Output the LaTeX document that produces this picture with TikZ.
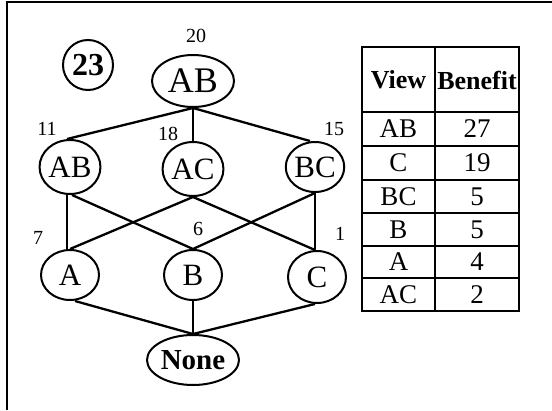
\documentclass[tikz,border=0pt]{standalone}
\usepackage{fontspec}
\setmainfont{Liberation Serif}
\usetikzlibrary{shapes.geometric}
\begin{document}
\begin{tikzpicture}[x=1pt,y=-1pt,
  lat/.style={ellipse,draw,line width=2pt,inner sep=0pt},
  big/.style={font=\fontsize{36}{38}\selectfont},
  mid/.style={font=\fontsize{31}{33}\selectfont},
  cnt/.style={font=\fontsize{20}{22}\selectfont,inner sep=0pt},
  edge/.style={line width=2.3pt},
  cell/.style={font=\fontsize{27}{29}\selectfont,inner sep=0pt},
  head/.style={font=\bfseries\fontsize{26}{28}\selectfont,inner sep=0pt},
  grid/.style={line width=2.3pt}]
\useasboundingbox (0,0) rectangle (552,410);
% frame
\draw[line width=2.3pt] (7,410) -- (7,2) -- (552,2);

% step counter
\node[circle,draw,line width=2pt,minimum size=50pt,inner sep=0pt,
      font=\bfseries\fontsize{32}{34}\selectfont] (step) at (88,65) {23};

% lattice of views
\node[lat,big,minimum width=82pt,minimum height=52pt] (top) at (193,81) {AB};
\node[lat,mid,minimum width=58pt,minimum height=54pt] (ab) at (70,167) {AB};
\node[lat,mid,minimum width=56pt,minimum height=54pt] (ac) at (193,169) {AC};
\node[lat,mid,minimum width=58pt,minimum height=50pt] (bc) at (315,167) {BC};
\node[lat,mid,minimum width=58pt,minimum height=50pt] (a) at (70,275) {A};
\node[lat,mid,minimum width=58pt,minimum height=50pt] (b) at (193,275) {B};
\node[lat,mid,minimum width=58pt,minimum height=52pt] (c) at (317,277) {C};
\node[lat,font=\bfseries\fontsize{29}{31}\selectfont,minimum width=92pt,minimum height=50pt] (none) at (193,360) {None};

% view sizes
\node[cnt] (n20) at (196,36) {20};
\node[cnt] (n11) at (47,129) {11};
\node[cnt] (n18) at (168,134) {18};
\node[cnt] (n15) at (334,129) {15};
\node[cnt] (n7) at (38,238) {7};
\node[cnt] (n6) at (198,229) {6};
\node[cnt] (n1) at (340,234) {1};

% lattice edges
\draw[edge] (top.south) -- ([xshift=-3pt]ab.north);
\draw[edge] (top.south) -- (ac.north);
\draw[edge] (top.south) -- ([xshift=-5pt]bc.north);
\draw[edge] ([xshift=-3pt]ab.south) -- ([xshift=-3pt]a.north);
\draw[edge] ([xshift=2pt]ab.south) -- (b.north);
\draw[edge] (ac.south) -- (a.north);
\draw[edge] (ac.south) -- ([xshift=-2pt]c.north);
\draw[edge] (bc.south) -- (b.north);
\draw[edge] (bc.south) -- ([xshift=-2pt]c.north);
\draw[edge] ([xshift=5pt]a.south) -- (none.north);
\draw[edge] (b.south) -- (none.north);
\draw[edge] ([xshift=-2pt]c.south) -- (none.north);

% benefit table
\draw[grid] (362,47) rectangle (519,311);
\draw[grid] (435,47) -- (435,311);
\foreach \yy in {112,146,180,213,246,278}
  \draw[grid] (362,\yy) -- (519,\yy);
\node[head] (hv) at (398.5,80) {View};
\node[head] (hb) at (477,80) {Benefit};
\node[cell] (v1) at (398.5,129) {AB};  \node[cell] (b1) at (477,129) {27};
\node[cell] (v2) at (398.5,163) {C};   \node[cell] (b2) at (477,163) {19};
\node[cell] (v3) at (398.5,196.5) {BC};\node[cell] (b3) at (477,196.5) {5};
\node[cell] (v4) at (398.5,229.5) {B}; \node[cell] (b4) at (477,229.5) {5};
\node[cell] (v5) at (398.5,262) {A};   \node[cell] (b5) at (477,262) {4};
\node[cell] (v6) at (398.5,294.5) {AC};\node[cell] (b6) at (477,294.5) {2};
\end{tikzpicture}
\end{document}
